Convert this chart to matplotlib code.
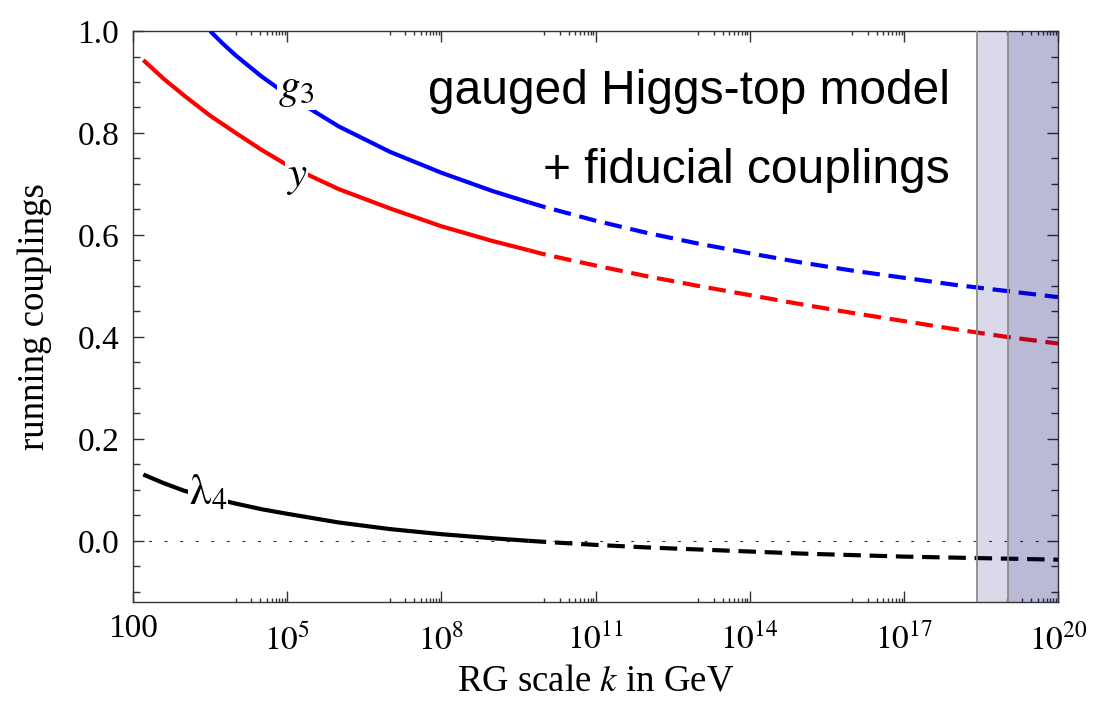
import numpy as np
import matplotlib
matplotlib.use("Agg")
import matplotlib.pyplot as plt
import matplotlib.transforms as mtransforms
from matplotlib.ticker import FixedLocator, FixedFormatter, NullFormatter

plt.rcParams['mathtext.fontset'] = 'stix'
plt.rcParams['font.family'] = ['Liberation Serif', 'DejaVu Serif']

# RG scale exponents log10(k/GeV) and couplings
log_k_g3 = [3.5, 3.75, 4, 4.5, 5, 6, 7, 8, 9, 9.7, 10, 11, 12, 13, 14, 15, 16, 17, 18, 19, 20]
g3 = [1.000, 0.975, 0.952, 0.911, 0.875, 0.813, 0.763, 0.722, 0.686, 0.664, 0.655,
      0.628, 0.604, 0.583, 0.564, 0.546, 0.530, 0.516, 0.502, 0.490, 0.478]

log_k_y = [2.2, 2.6, 3, 3.5, 4, 4.5, 5, 6, 7, 8, 9, 9.7, 10, 11, 12, 13, 14, 15, 16, 17, 18, 19, 20]
yuk = [0.943, 0.906, 0.873, 0.834, 0.800, 0.767, 0.737, 0.690, 0.652, 0.617, 0.588, 0.570,
       0.562, 0.540, 0.519, 0.500, 0.482, 0.464, 0.447, 0.431, 0.415, 0.400, 0.387]

log_k_lam = [2.2, 2.6, 3, 3.5, 4, 4.5, 5, 6, 7, 8, 9, 9.7, 10, 11, 12, 13, 14, 15, 16, 17, 18, 19, 20]
lam4 = [0.130, 0.113, 0.098, 0.085, 0.073, 0.062, 0.053, 0.036, 0.023, 0.013, 0.005, 0.0,
        -0.002, -0.008, -0.013, -0.017, -0.021, -0.025, -0.028, -0.031, -0.033, -0.035, -0.037]

log_k_split = 9.7            # solid -> dashed
band_light = (2.6e18, 1e20)  # shaded regions
band_dark = (1.07e19, 1e20)

x_major = [1e2, 1e5, 1e8, 1e11, 1e14, 1e17, 1e20]
x_labels = ['100', '$10^{5}$', '$10^{8}$', '$10^{11}$', '$10^{14}$', '$10^{17}$', '$10^{20}$']

fig = plt.figure(figsize=(11.15, 7.13), dpi=100)
ax = fig.add_axes([0.1193, 0.1557, 0.8296, 0.8008])

dash = (4.2, 2.1)
for lk, vals, col in [(log_k_g3, g3, '#0000ff'), (log_k_y, yuk, '#ff0000'), (log_k_lam, lam4, 'black')]:
    lk = np.array(lk)
    vals = np.array(vals)
    k = 10.0 ** lk
    solid = lk <= log_k_split
    dashed = lk >= log_k_split
    ax.plot(k[solid], vals[solid], color=col, lw=3.0, solid_capstyle='butt', zorder=3)
    ax.plot(k[dashed], vals[dashed], color=col, lw=3.0, dashes=dash,
            dash_capstyle='butt', zorder=3)

ax.axhline(0.0, color='#333333', lw=0.8, dashes=(2.7, 11.3), zorder=2)

shade = (0.0, 0.0, 0.43)
ax.axvspan(*band_light, color=shade, alpha=0.15, lw=0, zorder=4)
ax.axvspan(*band_dark, color=shade, alpha=0.14, lw=0, zorder=4)
for xb in (band_light[0], band_dark[0]):
    ax.axvline(xb, color='#8c8c8c', lw=1.3, zorder=5)

# curve labels
lab_box = dict(facecolor='white', edgecolor='none', pad=0.5)
ax.text(10**5.17, 0.884, '$g_3$', fontsize=31, ha='center', va='center', bbox=lab_box, zorder=6)
ax.text(10**5.19, 0.712, '$y$', fontsize=31, ha='center', va='center', bbox=lab_box, zorder=6)
ax.text(10**3.46, 0.092, r'$\mathrm{\lambda}_4$', fontsize=31, ha='center', va='center',
        bbox=lab_box, zorder=6)

ax.text(0.883, 0.872, 'gauged Higgs-top model', transform=ax.transAxes, fontsize=34.5,
        family='Liberation Sans', ha='right', va='baseline', zorder=6)
ax.text(0.883, 0.734, '+ fiducial couplings', transform=ax.transAxes, fontsize=34.5,
        family='Liberation Sans', ha='right', va='baseline', zorder=6)

ax.set_xscale('log')
ax.set_xlim(1e2, 1e20)
ax.set_ylim(-0.12, 1.0)

ax.xaxis.set_major_locator(FixedLocator(x_major))
ax.xaxis.set_major_formatter(FixedFormatter(x_labels))
minor = []
for e in range(1, 20, 3):
    for j in range(1, 10):
        minor.append(j * 10.0 ** e)
ax.xaxis.set_minor_locator(FixedLocator(minor))
ax.xaxis.set_minor_formatter(NullFormatter())

ax.set_yticks([0.0, 0.2, 0.4, 0.6, 0.8, 1.0])
ax.set_yticklabels(['0.0', '0.2', '0.4', '0.6', '0.8', '1.0'])
ax.set_yticks(np.arange(-0.10, 1.0, 0.05), minor=True)

ax.tick_params(which='both', direction='in', top=True, right=True, color='#333333',
               width=1.0, labelsize=24)
ax.tick_params(axis='x', which='major', length=8, pad=8)
ax.tick_params(axis='x', which='minor', length=3)
ax.tick_params(axis='y', which='major', length=8, pad=10)
ax.tick_params(axis='y', which='minor', length=5)

# power-of-ten labels sit lower than "100" (top-aligned with raised exponent)
shift = mtransforms.ScaledTranslation(0, -11 / 100, fig.dpi_scale_trans)
for lbl in ax.get_xticklabels()[1:]:
    lbl.set_transform(lbl.get_transform() + shift)

for sp in ax.spines.values():
    sp.set_color('#333333')
    sp.set_linewidth(1.0)

ax.set_xlabel('RG scale $k$ in GeV', fontsize=26.5, labelpad=5)
ax.set_ylabel('running couplings', fontsize=26.5, labelpad=18)

fig.savefig('out.png', dpi=100)
